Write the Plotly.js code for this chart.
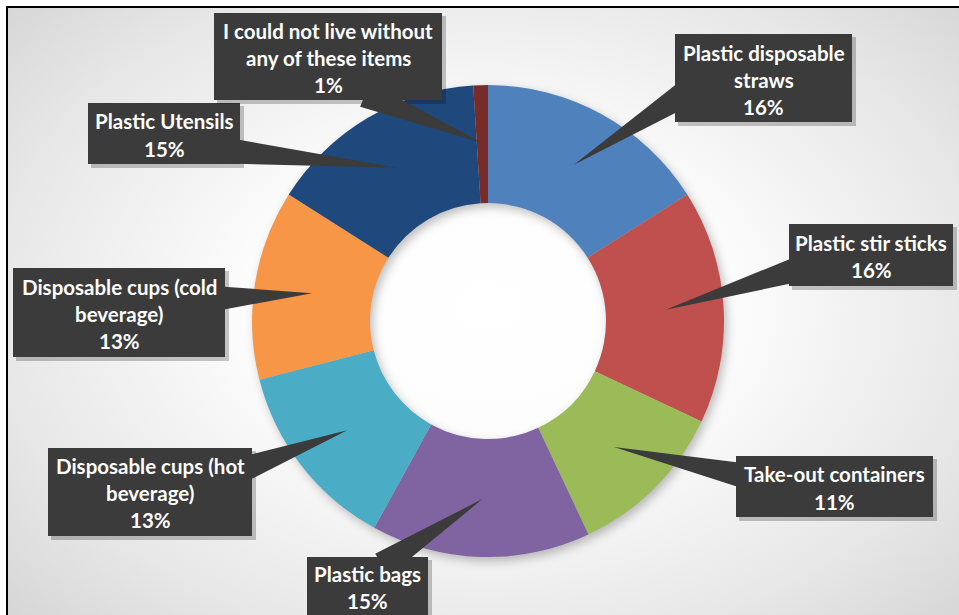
<!DOCTYPE html>
<html><head><meta charset="utf-8">
<script src="https://cdn.plot.ly/plotly-3.0.1.min.js"></script>
<style>
html,body{margin:0;padding:0;background:#fff;}
#chart{width:959px;height:615px;background:radial-gradient(ellipse 72% 78% at 51% 50%, #ffffff 0%, #fcfcfc 35%, #e7e7e7 72%, #d2d2d2 100%);}
#chart .pielayer{filter:drop-shadow(3px 4px 5px rgba(0,0,0,0.25));}
</style></head><body><div id="chart"></div>
<script>
// ---- data ----
const categories = [
  "Plastic disposable straws",
  "Plastic stir sticks",
  "Take-out containers",
  "Plastic bags",
  "Disposable cups (hot beverage)",
  "Disposable cups (cold beverage)",
  "Plastic Utensils",
  "I could not live without any of these items"
];
const values = [16, 16, 11, 15, 13, 13, 15, 1];
const labelLines = [
  "Plastic disposable<br>straws",
  "Plastic stir sticks",
  "Take-out containers",
  "Plastic bags",
  "Disposable cups (hot<br>beverage)",
  "Disposable cups (cold<br>beverage)",
  "Plastic Utensils",
  "I could not live without<br>any of these items"
];
const colors = ["#4F81BD", "#C0504D", "#9BBB59", "#8064A2", "#4BACC6", "#F79646", "#1F497D", "#772C2A"];

// ---- layout constants (pixels) ----
const W = 959, H = 615;
const CX = 488, CY = 321, R = 236, HOLE = 0.5;
const boxes = [            // x0, y0, x1, y1
  [675, 34, 852, 122],
  [789, 224, 953, 286],
  [736, 456, 933, 517],
  [307, 557, 428, 620],
  [48, 448, 252, 536],
  [13, 268, 225, 357],
  [88, 103, 240, 164],
  [214, 13, 442, 100]
];
const textCY = [80, 256, 488, 587, 493, 314, 135, 58];
const anchors = [          // pointer base point on the box edge
  [675, 100], [789, 272], [736, 474], [394, 557],
  [252, 466], [225, 298], [240, 152], [378, 100]
];
const LINE = 27, TIP_R = 0.755;
const FONT = {family: "Lato, 'Open Sans', sans-serif", size: 20.5, color: "#ffffff", weight: 700};

const px = p => p / W;
const py = p => 1 - p / H;

const total = values.reduce((a, b) => a + b, 0);
const shapes = [];
const annotations = [];

// frame
shapes.push({type: 'rect', xref: 'paper', yref: 'paper', x0: 0, x1: 1, y0: py(6), y1: 1, fillcolor: '#ffffff', line: {width: 0}, layer: 'above'});
shapes.push({type: 'rect', xref: 'paper', yref: 'paper', x0: 0, x1: px(6), y0: 0, y1: 1, fillcolor: '#ffffff', line: {width: 0}, layer: 'above'});
shapes.push({type: 'line', xref: 'paper', yref: 'paper', x0: px(7), x1: 1, y0: py(7), y1: py(7), line: {color: '#000', width: 2}, layer: 'above'});
shapes.push({type: 'line', xref: 'paper', yref: 'paper', x0: px(7), x1: px(7), y0: py(6), y1: 0, line: {color: '#000', width: 2}, layer: 'above'});

let cum = 0;
values.forEach((v, i) => {
  const th = 2 * Math.PI * (cum + v / 2) / total;
  cum += v;
  const tx = CX + TIP_R * R * Math.sin(th);
  const ty = CY - TIP_R * R * Math.cos(th);
  const [bx0, by0] = anchors[i];
  let dx = tx - bx0, dy = ty - by0;
  const L = Math.hypot(dx, dy); dx /= L; dy /= L;
  const bx = bx0 - dx * 14, by = by0 - dy * 14;
  const nx = -dy, ny = dx, w = 13;
  const b = boxes[i];
  // shadow
  shapes.push({type: 'rect', xref: 'paper', yref: 'paper', x0: px(b[0] + 3), x1: px(b[2] + 4), y0: py(b[3] + 4), y1: py(b[1] + 3),
    fillcolor: 'rgba(0,0,0,0.22)', line: {width: 0}, layer: 'above'});
  const path = `M ${px(bx + nx * w)} ${py(by + ny * w)} L ${px(tx)} ${py(ty)} L ${px(bx - nx * w)} ${py(by - ny * w)} Z`;
  shapes.push({type: 'path', xref: 'paper', yref: 'paper', path: path, fillcolor: '#3b3b3b', line: {width: 0}, layer: 'above'});
  shapes.push({type: 'rect', xref: 'paper', yref: 'paper', x0: px(b[0]), x1: px(b[2]), y0: py(b[3]), y1: py(b[1]),
    fillcolor: '#3b3b3b', line: {width: 0}, layer: 'above'});
  const lines = labelLines[i].split('<br>').concat([Math.round(v / total * 100) + '%']);
  const cxText = (b[0] + b[2]) / 2;
  lines.forEach((t, k) => {
    const yy = textCY[i] + (k - (lines.length - 1) / 2) * LINE;
    annotations.push({xref: 'paper', yref: 'paper', x: px(cxText), y: py(yy), text: t, showarrow: false,
      xanchor: 'center', yanchor: 'middle', font: FONT});
  });
});

const trace = {
  type: 'pie',
  labels: categories,
  values: values,
  marker: {colors: colors, line: {width: 0}},
  hole: HOLE,
  sort: false,
  direction: 'clockwise',
  rotation: 0,
  textinfo: 'none',
  hoverinfo: 'label+percent',
  domain: {x: [px(CX - R), px(CX + R)], y: [py(CY + R), py(CY - R)]}
};

const layout = {
  width: W, height: H,
  margin: {l: 0, r: 0, t: 0, b: 0},
  paper_bgcolor: 'rgba(0,0,0,0)',
  plot_bgcolor: 'rgba(0,0,0,0)',
  showlegend: false,
  shapes: shapes,
  annotations: annotations
};

Plotly.newPlot('chart', [trace], layout, {displayModeBar: false, staticPlot: true});
</script>
</body></html>
